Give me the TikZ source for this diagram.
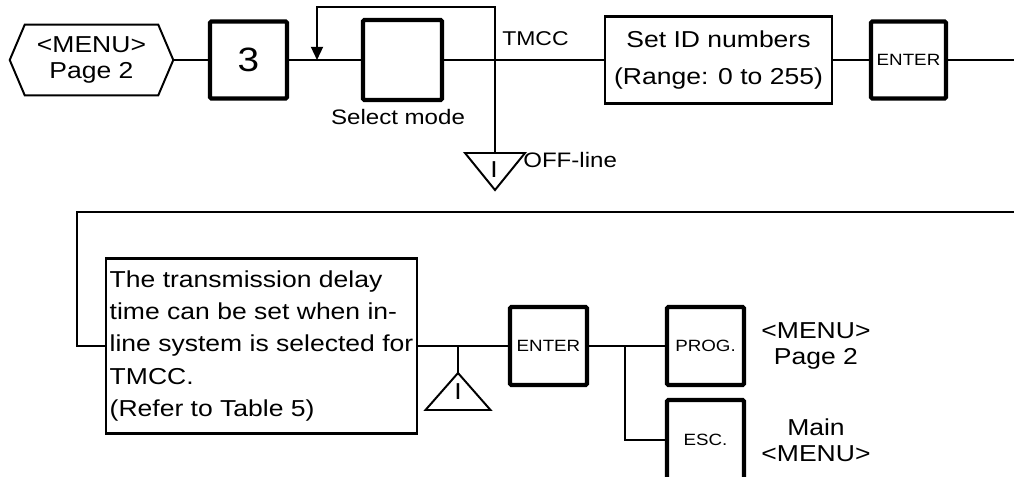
\documentclass[tikz,border=0pt]{standalone}
\usepackage{fontspec}
\setmainfont[FakeStretch=1.15]{Liberation Sans}
\usetikzlibrary{arrows.meta}
\begin{document}
\begin{tikzpicture}[
  wire/.style={line width=#1}, wire/.default=1.4pt,
  key/.style={draw,line width=3pt,rounded corners=1pt,inner sep=0pt,
    minimum width=1.925cm,minimum height=1.95cm,font=\fontsize{11.6}{13}\selectfont},
  panel/.style={draw,line width=1.6pt,inner sep=0pt},
  txt/.style={inner sep=0pt,align=center,font=\fontsize{16.4}{18.5}\selectfont},
  small/.style={inner sep=0pt,font=\fontsize{14.9}{17}\selectfont}
]
\useasboundingbox (0,0) rectangle (25.35,-11.925);
% first row
\node[txt,minimum width=4.075cm,minimum height=1.75cm] (menu) at (2.2875,-1.5) {<MENU>\\Page 2};
\draw[wire] (menu.west) -- ([xshift=0.375cm]menu.north west) -- ([xshift=-0.375cm]menu.north east)
  -- (menu.east) -- ([xshift=-0.375cm]menu.south east) -- ([xshift=0.375cm]menu.south west) -- cycle;
\node[key,minimum height=1.925cm,font=\fontsize{24}{26}\selectfont] (k3) at (6.2125,-1.5) {3};
\node[key,minimum width=1.975cm,minimum height=2cm] (sel) at (10.0625,-1.5) {};
\node[small] (selname) at (9.95,-2.925) {Select mode};
\node[panel,align=center,minimum width=5.675cm,minimum height=2.175cm,
  font=\fontsize{16.4}{26.3}\selectfont] (setid) at (17.9625,-1.5) {Set ID numbers\\(Range: 0 to 255)};
\node[key,minimum width=1.875cm,minimum height=1.925cm] (ent1) at (22.7125,-1.5) {ENTER};
\coordinate (fb) at (7.925,-1.5);
\coordinate (tmtop) at (12.375,-0.175);
\coordinate (offtop) at (12.375,-3.825);
\coordinate (east1) at (25.35,-1.5);
\draw[wire] (menu) -- (k3) -- (sel) -- (setid) -- (ent1) -- (east1);
\draw[wire,-{Triangle[length=0.33cm,width=0.3cm]}] (offtop) -- (tmtop) -| (fb);
\node[inner sep=0pt,anchor=base west,font=\fontsize{14.2}{16}\selectfont] (tmcc) at (12.55,-1.1425) {TMCC};
\draw[wire] ([xshift=-0.75cm]offtop) -- ([xshift=0.75cm]offtop) -- ([yshift=-0.925cm]offtop) -- cycle;
\node[txt] (offI) at (12.35,-4.25) {I};
\node[small,anchor=base west] (offname) at (13.075,-4.175) {OFF-line};
% second row
\coordinate (east2) at (25.35,-5.3);
\coordinate (wrap) at (1.925,-5.3);
\node[panel,align=left,minimum width=7.775cm,minimum height=4.375cm,
  font=\fontsize{16.4}{22.8}\selectfont] (delay) at (6.5375,-8.65)
  {The transmission delay\\time can be set when in-\\line system is selected for\\TMCC.\\(Refer to Table 5)};
\node[key] (ent2) at (13.7125,-8.65) {ENTER};
\node[key] (prog) at (17.6375,-8.65) {PROG.};
\node[key,minimum height=2cm] (esc) at (17.6375,-11.0) {ESC.};
\node[txt] (progname) at (20.4,-8.65) {<MENU>\\Page 2};
\node[txt] (escname) at (20.4,-11.0) {Main\\<MENU>};
\coordinate (inl) at (11.45,-8.65);
\coordinate (inltop) at (11.45,-9.325);
\coordinate (br) at (15.625,-8.65);
\draw[wire=2pt] (east2) -- (wrap) |- (delay);
\draw[wire=2pt] (delay) -- (ent2) -- (prog);
\draw[wire=2pt] (br) |- (esc);
\draw[wire=2pt] (inl) -- (inltop);
\draw[wire] (inltop) -- ([shift={(-0.8125,-0.925)}]inltop) -- ([shift={(0.8125,-0.925)}]inltop) -- cycle;
\node[txt] (inlI) at (11.45,-9.8) {I};
\end{tikzpicture}
\end{document}
